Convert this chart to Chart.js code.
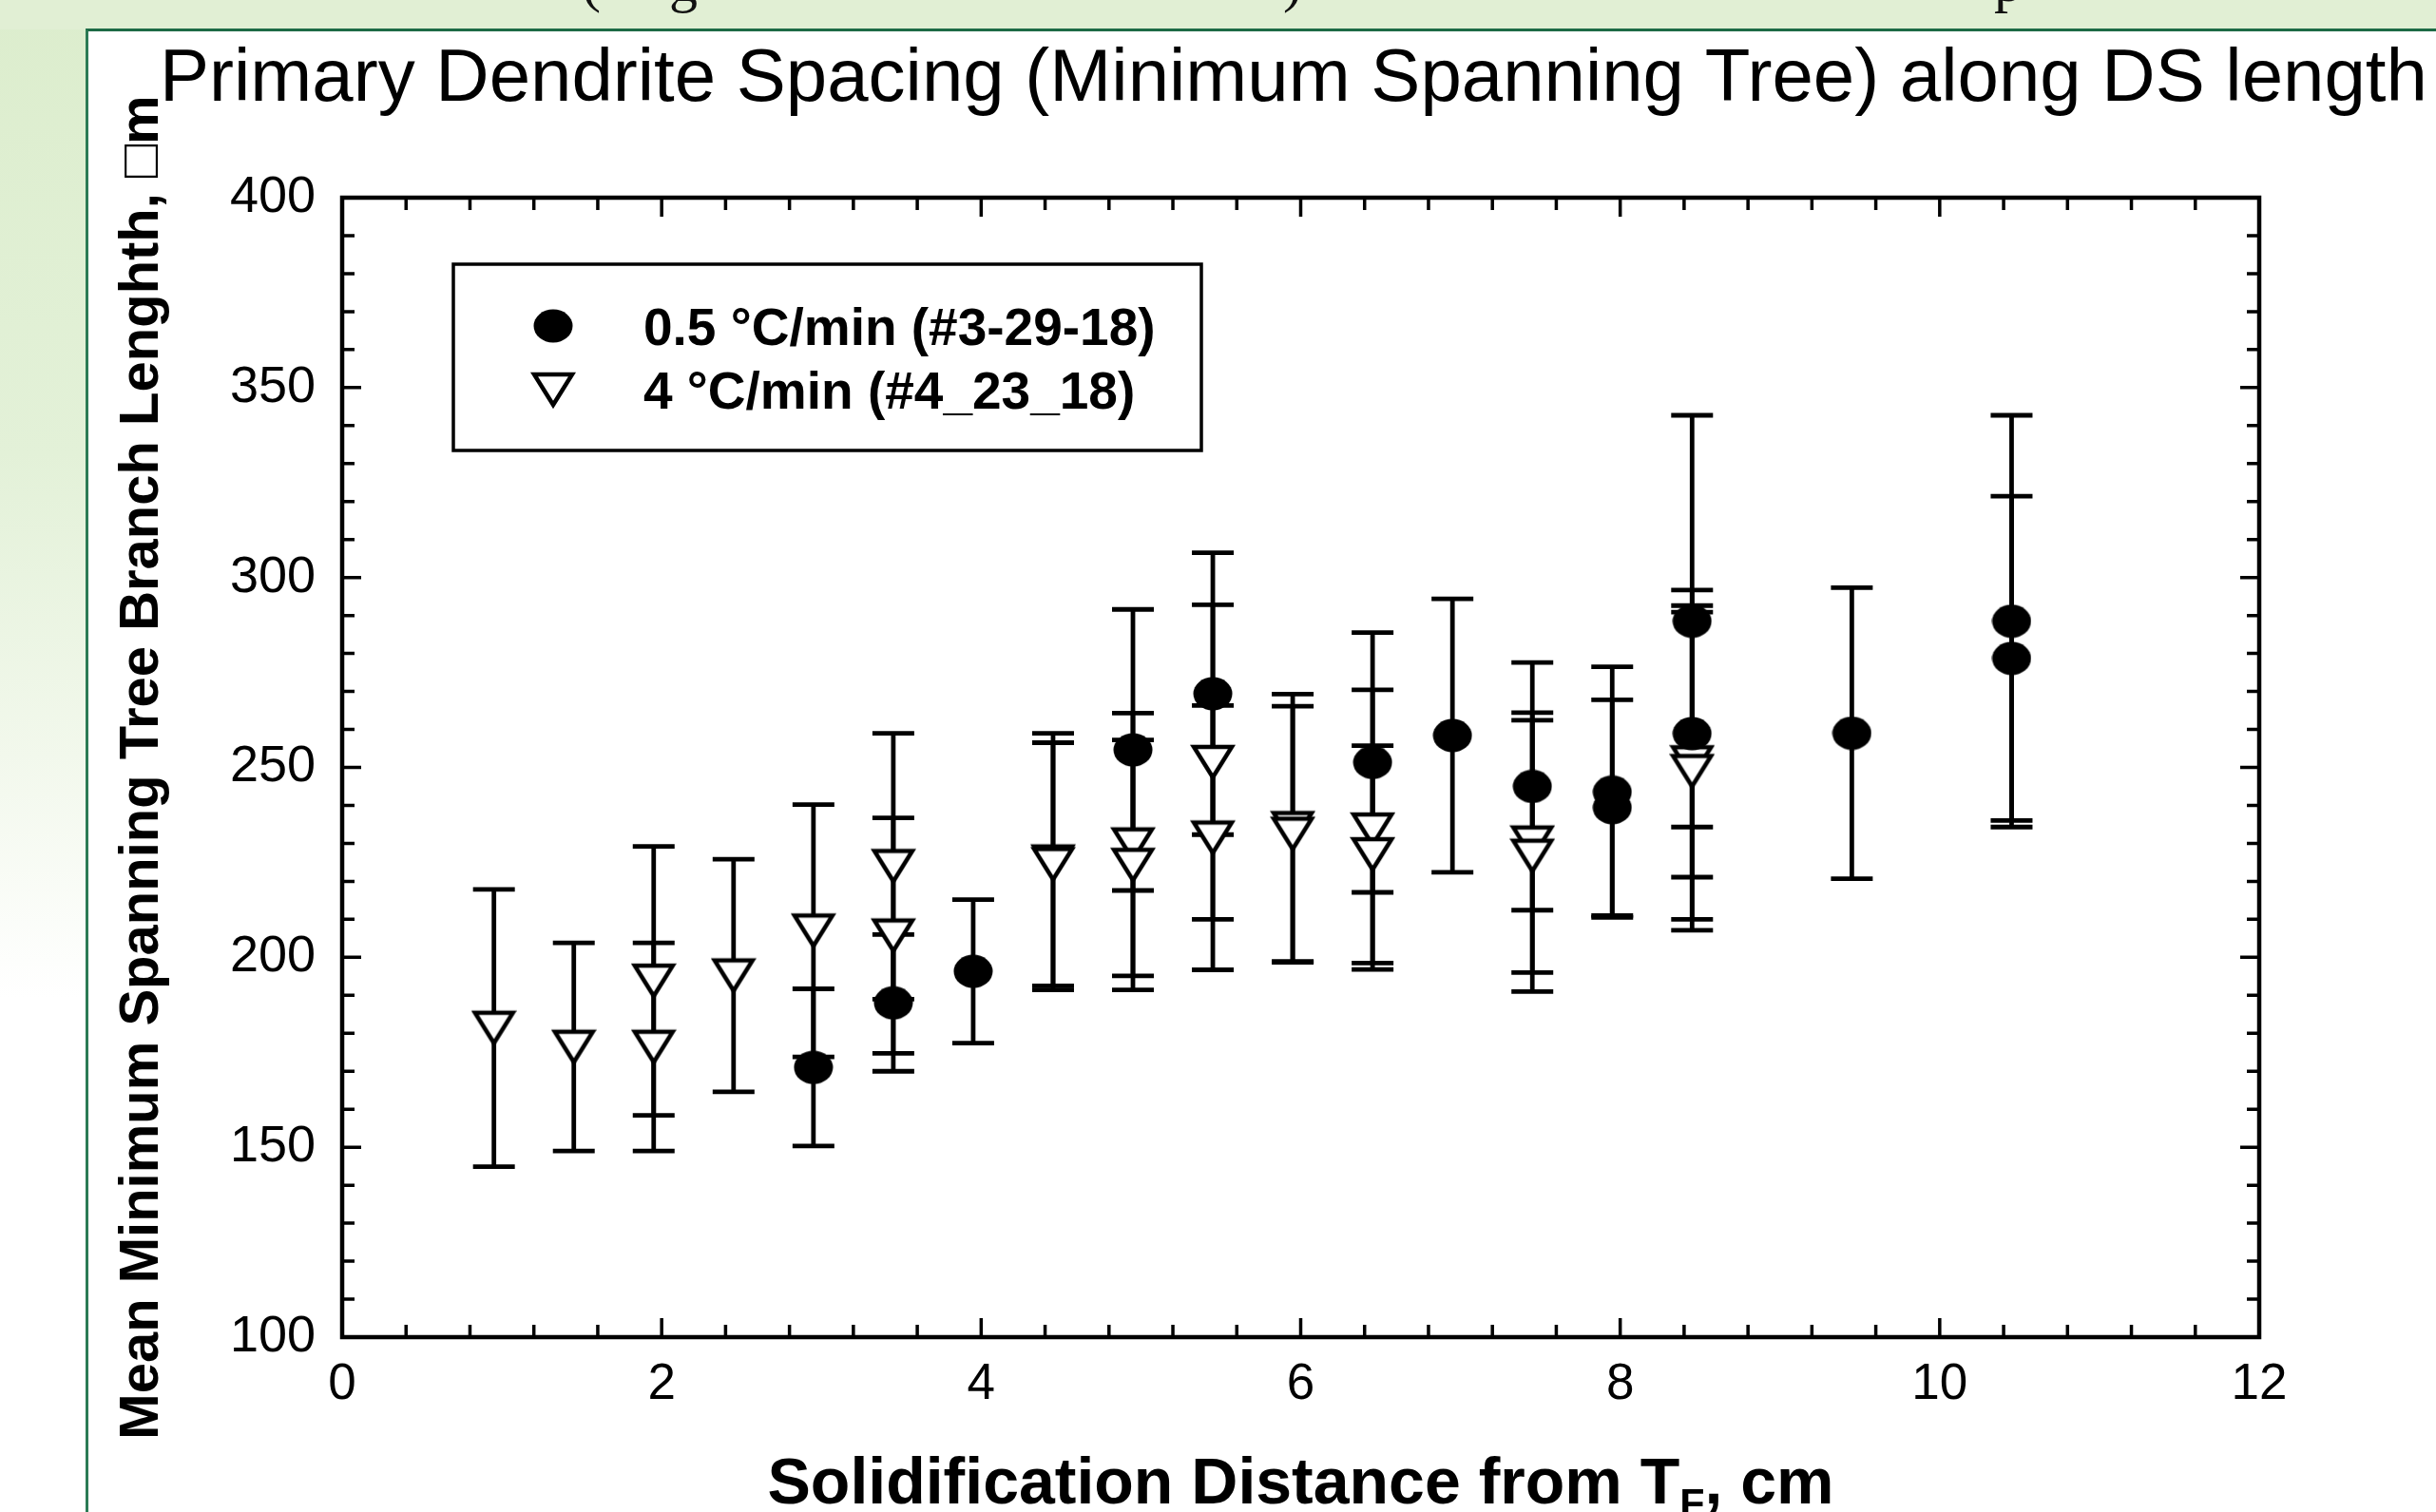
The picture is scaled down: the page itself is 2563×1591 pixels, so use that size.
<!DOCTYPE html>
<html lang="en">
<head>
<meta charset="UTF-8">
<title>Primary Dendrite Spacing (Minimum Spanning Tree) along DS length</title>
<script src="https://cdn.jsdelivr.net/npm/chart.js"></script>
<style>
  html, body { margin: 0; padding: 0; width: 2563px; height: 1591px; overflow: hidden; background: #fff; }
  .band { position: absolute; left: 0; top: 0; width: 2563px; height: 31px; background: #e1efd4; overflow: hidden; }
  .side { position: absolute; left: 0; top: 0; width: 90px; height: 1591px;
          background: linear-gradient(to bottom, #dcedcd 0%, #e3f1d8 30%, #f2f8ec 50%, #ffffff 66%); }
  .panel { position: absolute; left: 90px; top: 30px; width: 2473px; height: 1561px; background: #fff;
           border-left: 3px solid #2c7b55; border-top: 3px solid #1d6a45; box-sizing: border-box; }
  .cut { position: absolute; top: -49px; font: 60px "Liberation Serif", serif; line-height: 60px; color: #111; }
  #wrap { position: absolute; left: 0; top: 0; width: 2563px; height: 1591px; }
</style>
</head>
<body>
<div class="side"></div>
<div class="band">
  <span class="cut" style="left:612px">(</span>
  <span class="cut" style="left:704px">g</span>
  <span class="cut" style="left:1350px">)</span>
  <span class="cut" style="left:2098px">p</span>
</div>
<div class="panel"></div>
<div id="wrap"><canvas id="chart"></canvas></div>

<script>
// 0.5 °C/min (#3-29-18) - filled circles
const slowX    = [2.95, 3.45, 3.95, 4.95, 5.45, 6.45, 6.95, 7.45, 7.95, 7.95, 8.45, 8.45, 9.45, 10.45, 10.45];
const slowMean = [171.0, 188.0, 196.3, 254.6, 269.4, 251.3, 258.4, 245.0, 243.5, 239.4, 288.5, 258.9, 259.0, 288.5, 278.7];
const slowErr  = [20.7, 18.0, 18.9, 37.0, 37.1, 34.2, 36.0, 32.6, 33.0, 28.4, 54.2, 37.8, 38.3, 54.2, 42.7];

// 4 °C/min (#4_23_18) - open down triangles
const fastX    = [0.95, 1.45, 1.95, 1.95, 2.45, 2.95, 3.45, 3.45, 4.45, 4.45, 4.95, 4.95,
                  5.45, 5.45, 5.95, 5.95, 6.45, 6.45, 7.45, 7.45, 8.45, 8.45];
const fastMean = [181.4, 176.4, 193.8, 176.4, 195.2, 207.0, 224.0, 205.7, 225.2, 224.5, 229.7, 224.3,
                  251.4, 231.5, 234.0, 232.5, 233.6, 227.1, 230.2, 226.7, 251.3, 249.0];
const fastErr  = [36.5, 27.4, 35.4, 27.4, 30.6, 33.2, 35.0, 31.0, 33.8, 32.0, 34.6, 32.9,
                  41.4, 34.8, 35.3, 33.6, 36.8, 28.6, 34.2, 35.7, 41.3, 41.9];

const seriesNames = ['0.5 \u00B0C/min (#3-29-18)', '4 \u00B0C/min (#4_23_18)'];
const xTicks = [0, 2, 4, 6, 8, 10, 12];
const yTicks = [100, 150, 200, 250, 300, 350, 400];

const chartTitle = 'Primary Dendrite Spacing (Minimum Spanning Tree) along DS length';
const yTitle = 'Mean Minimum Spanning Tree Branch Lenghth, \u25A1m';
const xTitle = ['Solidification Distance from T', 'F', ', cm'];

const FONT = '"Liberation Sans", Arial, Helvetica, sans-serif';

// marker images
function makeDot() {
    const c = document.createElement('canvas');
    c.width = 42; c.height = 36;
    const g = c.getContext('2d');
    g.fillStyle = '#000';
    g.beginPath();
    g.ellipse(21, 18, 20.5, 17.5, 0, 0, Math.PI * 2);
    g.fill();
    return c;
}
function makeTri() {
    const c = document.createElement('canvas');
    c.width = 48; c.height = 42;
    const g = c.getContext('2d');
    g.lineWidth = 4.5;
    g.fillStyle = '#fff';
    g.strokeStyle = '#000';
    g.beginPath();
    g.moveTo(4, 5); g.lineTo(44, 5); g.lineTo(24, 37); g.closePath();
    g.fill(); g.stroke();
    return c;
}
const dot = makeDot();
const tri = makeTri();

const toPoints = (xs, ys) => xs.map((x, i) => ({ x: x, y: ys[i] }));

const framePlugin = {
    id: 'frame',
    beforeDatasetsDraw(chart) {
        // error bars go under the markers
        const ctx = chart.ctx, ys = chart.scales.y;
        ctx.save();
        ctx.strokeStyle = '#000';
        ctx.lineWidth = 4.8;
        chart.data.datasets.forEach((ds, di) => {
            const meta = chart.getDatasetMeta(di);
            meta.data.forEach((pt, i) => {
                const top = ys.getPixelForValue(ds.data[i].y + ds.err[i]);
                const bot = ys.getPixelForValue(ds.data[i].y - ds.err[i]);
                ctx.beginPath();
                ctx.moveTo(pt.x, top); ctx.lineTo(pt.x, bot);
                ctx.moveTo(pt.x - 22, top); ctx.lineTo(pt.x + 22, top);
                ctx.moveTo(pt.x - 22, bot); ctx.lineTo(pt.x + 22, bot);
                ctx.stroke();
            });
        });
        ctx.restore();
    },
    afterDraw(chart) {
        const ctx = chart.ctx;
        const { left, right, top, bottom } = chart.chartArea;
        const xs = chart.scales.x, ys = chart.scales.y;
        ctx.save();
        ctx.strokeStyle = '#000';

        // box
        ctx.lineWidth = 4.5;
        ctx.strokeRect(left, top, right - left, bottom - top);

        // inward ticks on all four sides
        ctx.lineWidth = 3.5;
        ctx.beginPath();
        for (let k = 1; k < 30; k++) {
            const px = xs.getPixelForValue(k * 0.4);
            const len = k % 5 === 0 ? 20 : 13;
            ctx.moveTo(px, bottom); ctx.lineTo(px, bottom - len);
            ctx.moveTo(px, top); ctx.lineTo(px, top + len);
        }
        for (let v = 110; v < 400; v += 10) {
            const py = ys.getPixelForValue(v);
            const len = v % 50 === 0 ? 20 : 13;
            ctx.moveTo(left, py); ctx.lineTo(left + len, py);
            ctx.moveTo(right, py); ctx.lineTo(right - len, py);
        }
        ctx.stroke();

        // legend box
        const lx = left + 117, ly = top + 70;
        ctx.fillStyle = '#fff';
        ctx.fillRect(lx, ly, 787, 196);
        ctx.lineWidth = 3.5;
        ctx.strokeRect(lx, ly, 787, 196);
        ctx.drawImage(dot, lx + 105 - dot.width / 2, ly + 65 - dot.height / 2);
        ctx.drawImage(tri, lx + 105 - tri.width / 2, ly + 132 - tri.height / 2);
        ctx.fillStyle = '#000';
        ctx.textBaseline = 'alphabetic';
        ctx.textAlign = 'left';
        ctx.font = 'bold 55px ' + FONT;
        ctx.fillText(seriesNames[0], lx + 200, ly + 85);
        ctx.fillText(seriesNames[1], lx + 200, ly + 152);

        // chart title
        ctx.font = '78px ' + FONT;
        ctx.fillText(chartTitle, 168, 106);

        // x axis title with subscript F
        const big = 'bold 68px ' + FONT, small = 'bold 43px ' + FONT;
        ctx.font = big;
        const w0 = ctx.measureText(xTitle[0]).width;
        const w2 = ctx.measureText(xTitle[2]).width;
        ctx.font = small;
        const w1 = ctx.measureText(xTitle[1]).width;
        let x0 = (left + right) / 2 - (w0 + w1 + w2) / 2;
        const base = 1582;
        ctx.font = big;
        ctx.fillText(xTitle[0], x0, base);
        ctx.font = small;
        ctx.fillText(xTitle[1], x0 + w0, base + 14);
        ctx.font = big;
        ctx.fillText(xTitle[2], x0 + w0 + w1, base);
        ctx.restore();
    }
};

new Chart(document.getElementById('chart'), {
    type: 'scatter',
    data: {
        datasets: [
            {
                label: seriesNames[0],
                data: toPoints(slowX, slowMean),
                err: slowErr,
                pointStyle: dot,
                pointRadius: 20,
                pointHoverRadius: 20
            },
            {
                label: seriesNames[1],
                data: toPoints(fastX, fastMean),
                err: fastErr,
                pointStyle: tri,
                pointRadius: 20,
                pointHoverRadius: 20
            }
        ]
    },
    options: {
        responsive: true,
        maintainAspectRatio: false,
        animation: false,
        layout: { padding: { left: 90, top: 208, right: 186, bottom: 0 } },
        plugins: {
            legend: { display: false },
            tooltip: { enabled: false }
        },
        scales: {
            x: {
                type: 'linear',
                min: 0,
                max: 12,
                afterBuildTicks: s => { s.ticks = xTicks.map(v => ({ value: v })); },
                afterFit: s => { s.height = 184; },
                grid: { display: false, drawTicks: false },
                border: { display: false },
                ticks: { padding: 19, color: '#000', maxRotation: 0, font: { family: FONT, size: 53 } }
            },
            y: {
                type: 'linear',
                min: 100,
                max: 400,
                afterBuildTicks: s => { s.ticks = yTicks.map(v => ({ value: v })); },
                afterFit: s => { s.width = 270; },
                grid: { display: false, drawTicks: false },
                border: { display: false },
                ticks: { padding: 28, color: '#000', font: { family: FONT, size: 54 } },
                title: {
                    display: true,
                    text: yTitle,
                    color: '#000',
                    font: { family: FONT, size: 58, weight: 'bold' },
                    padding: { top: 25, bottom: 0 }
                }
            }
        }
    },
    plugins: [framePlugin]
});
</script>
</body>
</html>
